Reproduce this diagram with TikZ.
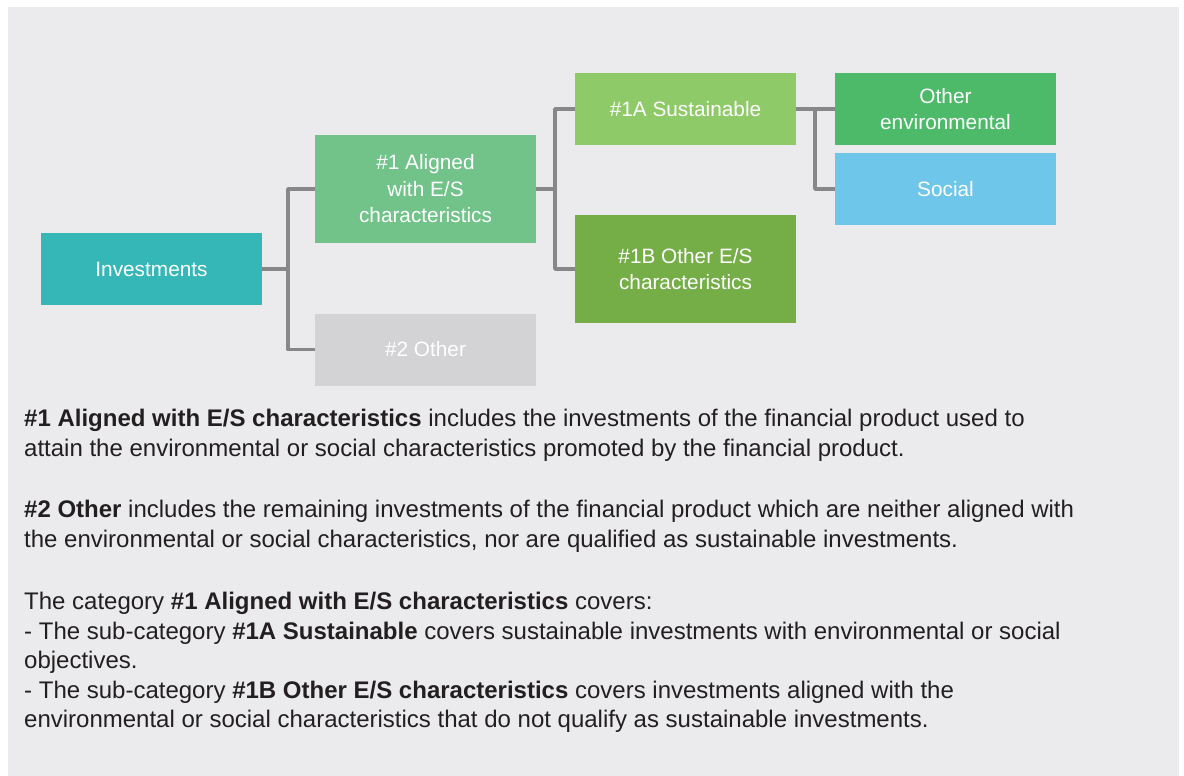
\documentclass[tikz,border=0pt]{standalone}
\usepackage{fontspec}
\setmainfont{Liberation Sans}
\usepackage{tikz}
\usetikzlibrary{positioning, calc}

\definecolor{panelgrey}{HTML}{EBEBED}
\definecolor{linegrey}{HTML}{87878A}
\definecolor{invteal}{HTML}{35B7B7}
\definecolor{aligngreen}{HTML}{71C389}
\definecolor{othergrey}{HTML}{D3D3D5}
\definecolor{susgreen}{HTML}{8FCA69}
\definecolor{esgreen}{HTML}{75AD47}
\definecolor{envgreen}{HTML}{4DBA6A}
\definecolor{socblue}{HTML}{6EC6EA}
\definecolor{bodytext}{HTML}{231F20}

\begin{document}
\begin{tikzpicture}[
        x=1bp, y=-1bp,
        catbox/.style={fill=#1, text=white, minimum width=221bp, minimum height=72bp,
                       inner sep=0pt, align=center, font=\fontsize{20.8bp}{26.5bp}\selectfont},
        tallbox/.style={catbox=#1, minimum height=108bp},
        conn/.style={draw=linegrey, line width=3.6bp, line join=round},
        para/.style={anchor=north west, inner sep=0pt, align=left, text=bodytext,
                     font=\fontsize{24bp}{29.5bp}\selectfont}
    ]
% Canvas and grey panel
\useasboundingbox (0,0) rectangle (1184,776);
\fill[white] (0,0) rectangle (1184,776);
\fill[panelgrey] (8,7) rectangle (1179,776);

% Level 0
\node[catbox=invteal] (inv) at (151.5,269) {Investments};

% Level 1
\node[tallbox=aligngreen] (al) at (425.5,189) {\#1 Aligned\\with E/S\\characteristics};
\node[catbox=othergrey] (oth) at (425.5,349.5) {\#2 Other};

% Level 2
\node[catbox=susgreen] (sus) at (685.5,109) {\#1A Sustainable};
\node[tallbox=esgreen] (obes) at (685.5,269) {\#1B Other E/S\\characteristics};

% Level 3
\node[catbox=envgreen] (env) at (945.5,109) {Other\\environmental};
\node[catbox=socblue] (soc) at (945.5,189) {Social};

% Junction points of the tree
\coordinate (j1) at (288,269);
\coordinate (j2) at (555,189);
\coordinate (j3) at (815,109);

% Connectors
\draw[conn] (inv.east) -- (j1);
\draw[conn] (al.west) -| (j1) |- (oth.west);
\draw[conn] (al.east) -- (j2);
\draw[conn] (sus.west) -| (j2) |- (obes.west);
\draw[conn] (sus.east) -- (env.west);
\draw[conn] (j3) |- (soc.west);

% Explanatory text
\node[para] (p1) at (24,409) {\textbf{\#1 Aligned with E/S characteristics} includes the investments of the financial product used to\\
attain the environmental or social characteristics promoted by the financial product.};
\node[para] (p2) at (24,500) {\textbf{\#2 Other} includes the remaining investments of the financial product which are neither aligned with\\
the environmental or social characteristics, nor are qualified as sustainable investments.};
\node[para] (p3) at (24,592) {The category \textbf{\#1 Aligned with E/S characteristics} covers:\\
- The sub-category \textbf{\#1A Sustainable} covers sustainable investments with environmental or social\\
objectives.\\
- The sub-category \textbf{\#1B Other E/S characteristics} covers investments aligned with the\\
environmental or social characteristics that do not qualify as sustainable investments.};
\end{tikzpicture}
\end{document}
